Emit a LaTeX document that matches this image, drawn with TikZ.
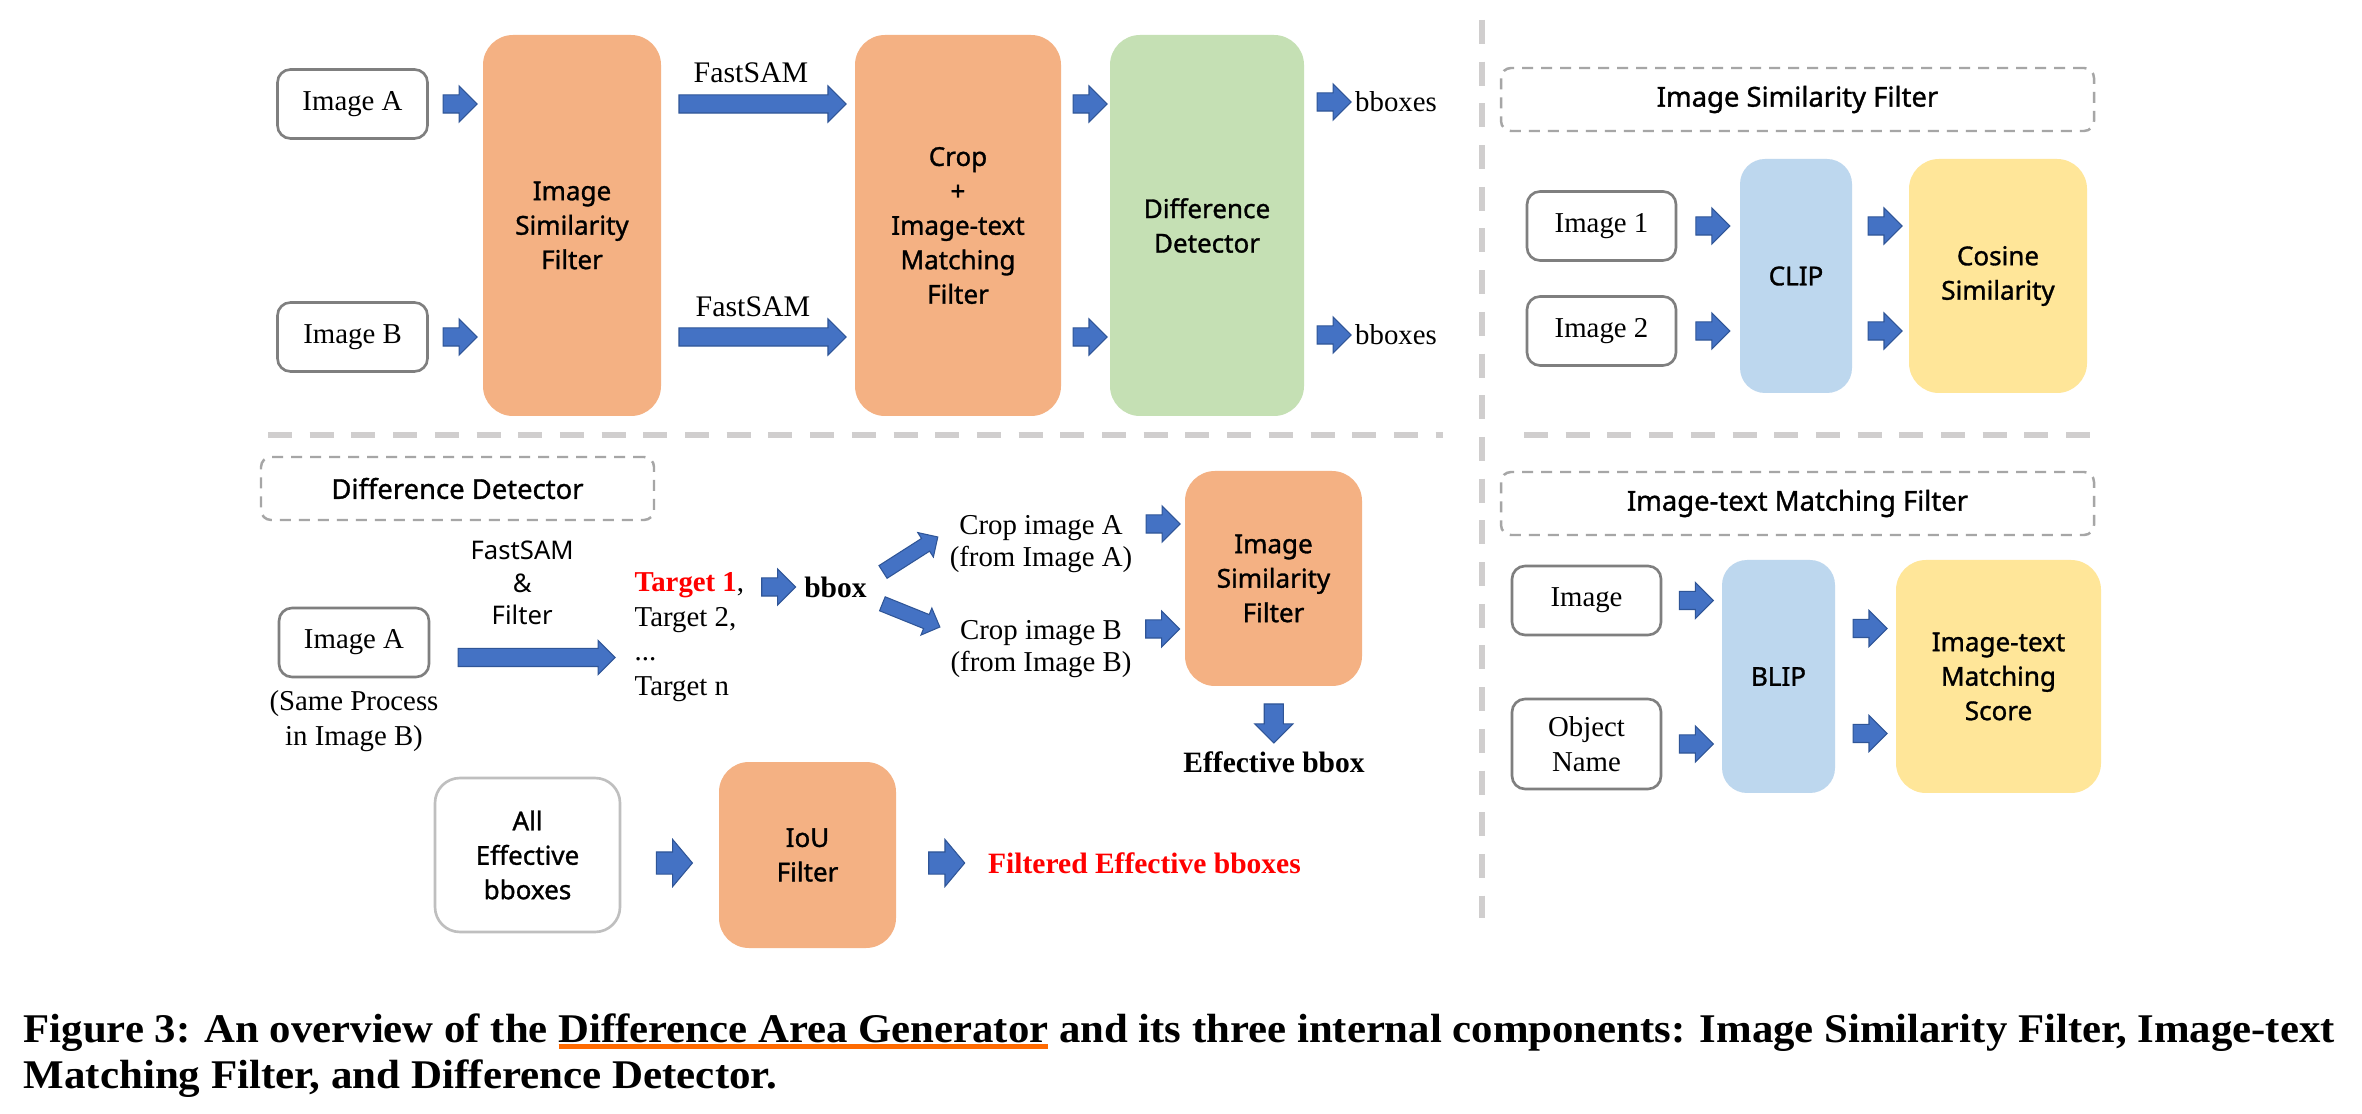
\documentclass[tikz,border=0pt]{standalone}
\usepackage{fontspec}
\usepackage{graphicx}
\setmainfont{Liberation Serif}
\newfontfamily\boxfont{Noto Sans}[FakeBold=1.2]
\newfontfamily\lightfont{Noto Sans}
\usetikzlibrary{shapes.arrows,calc,positioning}

\definecolor{orangefill}{HTML}{F4B183}
\definecolor{greenfill}{HTML}{C5E0B4}
\definecolor{bluefill}{HTML}{BDD7EE}
\definecolor{yellowfill}{HTML}{FFE699}
\definecolor{arrowfill}{HTML}{4472C4}
\definecolor{arrowedge}{HTML}{2F5597}
\definecolor{boxgrey}{HTML}{7F7F7F}
\definecolor{lightgrey}{HTML}{BFBFBF}
\definecolor{dashgrey}{HTML}{A6A6A6}
\definecolor{sepgrey}{HTML}{D0CECE}
\definecolor{capline}{HTML}{FF6A00}

\newsavebox\ulbox
\newcommand\orangeul[1]{\sbox\ulbox{#1}\rlap{\color{capline}\rule[-2pt]{\wd\ulbox}{1.5pt}}\usebox\ulbox}

\begin{document}
\begin{tikzpicture}[x=0.1mm, y=-0.1mm,
  lbl/.style={inner sep=0pt, font=\fontsize{8.2}{10}\selectfont},
  imgbox/.style={draw=boxgrey, line width=0.75pt, rounded corners=1.3mm, fill=white,
    minimum width=15mm, minimum height=6.9mm, inner sep=0pt, font=\fontsize{8.2}{10}\selectfont},
  module/.style={rounded corners=3mm, inner sep=0pt, align=center,
    font=\boxfont\fontsize{7.4}{9.8}\selectfont},
  titlebox/.style={draw=dashgrey, dash pattern=on 1.1mm off 0.8mm, line width=0.7pt,
    rounded corners=1mm, minimum width=59.3mm, minimum height=6.3mm,
    font=\boxfont\fontsize{7.8}{9.8}\selectfont},
  blkarrow/.style={single arrow, draw=arrowedge, fill=arrowfill, line width=0.3pt,
    inner sep=0.85mm, minimum height=3.4mm, minimum width=3.5mm, single arrow head extend=0.9mm},
  longarrow/.style={blkarrow, minimum height=16.7mm},
  diagarrow/.style={blkarrow, inner sep=0.7mm, minimum width=2.8mm, single arrow head extend=0.7mm},
  bigarrow/.style={blkarrow, inner sep=1.05mm, minimum height=3.6mm, minimum width=4.6mm,
    single arrow head extend=1.25mm, single arrow tip angle=100},
  sep/.style={draw=sepgrey, line width=0.67mm, dash pattern=on 2.4mm off 1.77mm}
]
\fill[white] (0,0) rectangle (2362,1114);
\useasboundingbox (0,0) rectangle (2362,1114);

% separators
\draw[sep] (268,435) -- (1443,435);
\draw[sep] (1524,435) -- (2090,435);
\draw[sep] (1482,20) -- (1482,918);

% overview pipeline
\node[imgbox] (imgA) at (352.5,104) {Image A};
\node[imgbox] (imgB) at (352.5,337) {Image B};
\node[module, fill=orangefill, minimum width=17.8mm, minimum height=38.1mm] (simf) at (572,225.5) {Image\\Similarity\\Filter};
\node[module, fill=orangefill, minimum width=20.6mm, minimum height=38.1mm] (cropf) at (958,225.5) {Crop\\+\\Image-text\\Matching\\Filter};
\node[module, fill=greenfill, minimum width=19.4mm, minimum height=38.1mm] (diffd) at (1207,225.5) {Difference\\Detector};
\node[lbl] (outA) at (1396,102) {bboxes};
\node[lbl] (outB) at (1396,335) {bboxes};

\path (imgA.east) -- (imgA.east -| simf.west) node[midway, blkarrow] {};
\path (imgB.east) -- (imgB.east -| simf.west) node[midway, blkarrow] {};
\path (imgA.east -| simf.east) -- (imgA.east -| cropf.west) node[midway, longarrow] {}
  node[midway, lbl, above=2mm, xshift=-0.7mm, font=\fontsize{8.5}{10}\selectfont] {FastSAM};
\path (imgB.east -| simf.east) -- (imgB.east -| cropf.west) node[midway, longarrow] {}
  node[midway, lbl, above=2mm, xshift=-0.5mm, font=\fontsize{8.5}{10}\selectfont] {FastSAM};
\path (imgA.east -| cropf.east) -- (imgA.east -| diffd.west) node[midway, blkarrow] {};
\path (imgB.east -| cropf.east) -- (imgB.east -| diffd.west) node[midway, blkarrow] {};
\path (outA.west -| diffd.east) -- (outA.west) node[midway, blkarrow] {};
\path (outB.west -| diffd.east) -- (outB.west) node[midway, blkarrow] {};

% image similarity filter
\node[titlebox] (isftitle) at (1797.5,99.5) {Image Similarity Filter};
\node[imgbox, minimum width=14.9mm] (img1) at (1601.5,226) {Image 1};
\node[imgbox, minimum width=14.9mm] (img2) at (1601.5,331) {Image 2};
\node[module, fill=bluefill, minimum width=11.2mm, minimum height=23.4mm, rounded corners=2.5mm] (clip) at (1796,276) {CLIP};
\node[module, fill=yellowfill, minimum width=17.8mm, minimum height=23.4mm] (cosine) at (1998,276) {Cosine\\Similarity};
\path (img1.east) -- (img1.east -| clip.west) node[midway, blkarrow] {};
\path (img2.east) -- (img2.east -| clip.west) node[midway, blkarrow] {};
\path (img1.east -| clip.east) -- (img1.east -| cosine.west) node[midway, blkarrow] {};
\path (img2.east -| clip.east) -- (img2.east -| cosine.west) node[midway, blkarrow] {};

% image-text matching filter
\node[titlebox] (itmtitle) at (1797.5,503.5) {Image-text Matching Filter};
\node[imgbox, minimum width=14.9mm] (imgC) at (1586.5,600.5) {Image};
\node[imgbox, minimum width=14.9mm, minimum height=9mm, align=center] (objn) at (1586.5,744) {Object\\Name};
\node[module, fill=bluefill, minimum width=11.3mm, minimum height=23.3mm, rounded corners=2.5mm] (blip) at (1778.5,676.5) {BLIP};
\node[module, fill=yellowfill, minimum width=20.5mm, minimum height=23.3mm] (score) at (1998.5,676.5) {Image-text\\Matching\\Score};
\path (imgC.east) -- (imgC.east -| blip.west) node[midway, blkarrow] {};
\path (objn.east) -- (objn.east -| blip.west) node[midway, blkarrow] {};
\path ($(blip.east)+(0,-48)$) -- ($(score.west)+(0,-48)$) node[midway, blkarrow] {};
\path ($(blip.east)+(0,57)$) -- ($(score.west)+(0,57)$) node[midway, blkarrow] {};

% difference detector
\node[titlebox, minimum width=39.3mm] (ddtitle) at (457.5,488.5) {Difference Detector};
\node[imgbox] (imgD) at (354,642.5) {Image A};
\node[lbl, align=center, below=1.1mm of imgD] (same) {(Same Process\\in Image B)};
\node[lbl, align=left, anchor=west, font=\fontsize{8.2}{9.8}\selectfont] (targets) at (634,637) {{\bfseries\color{red}Target 1},\\Target 2,\\...\\Target n};
\node[lbl, font=\fontsize{8.4}{10}\selectfont\bfseries] (bbx) at (835.5,587) {bbox};
\node[lbl, align=center, font=\fontsize{8.2}{9}\selectfont] (cropA) at (1041,544) {Crop image A\\(from Image A)};
\node[lbl, align=center, font=\fontsize{8.2}{9}\selectfont] (cropB) at (1041,649) {Crop image B\\(from Image B)};
\node[module, fill=orangefill, minimum width=17.7mm, minimum height=21.5mm] (isf2) at (1273.5,578.5) {Image\\Similarity\\Filter};
\node[lbl, font=\fontsize{8.4}{10}\selectfont\bfseries] (effb) at (1274,762) {Effective bbox};

\path ($(imgD.east)+(0,15)$) -- ($(imgD.east -| targets.west)+(0,15)$)
  node[midway, longarrow, minimum height=15.7mm, minimum width=3.3mm, single arrow head extend=0.8mm] {}
  node[midway, above=3.2mm, xshift=-1mm, inner sep=0pt, align=center, font=\lightfont\fontsize{7.3}{9.25}\selectfont] (fsf) {FastSAM\\\&\\Filter};
\path (bbx.west -| targets.east) -- (bbx.west) node[midway, blkarrow] {};
\path ($(bbx.east)+(14,-14)$) -- ($(cropA.west)+(-16,-4)$) node[midway, sloped, diagarrow, minimum height=6.5mm] {};
\path ($(bbx.east)+(13,16)$) -- ($(cropB.west)+(-15,-24)$) node[midway, sloped, diagarrow, minimum height=6.2mm] {};
\path ($(cropA.east)+(0,-20)$) -- ($(cropA.east -| isf2.west)+(0,-20)$) node[midway, blkarrow] {};
\path ($(cropB.east)+(0,-20)$) -- ($(cropB.east -| isf2.west)+(0,-20)$) node[midway, blkarrow] {};
\path (isf2.south) -- (effb.north) node[midway, blkarrow, rotate=-90, inner sep=0.9mm, minimum height=3.9mm, minimum width=3.7mm, single arrow head extend=0.95mm] {};

% IoU filtering
\node[module, draw=lightgrey, line width=0.75pt, fill=white, minimum width=18.5mm, minimum height=15.4mm, rounded corners=2.5mm] (alleff) at (527.5,855) {All\\Effective\\bboxes};
\node[module, fill=orangefill, minimum width=17.7mm, minimum height=18.6mm] (iou) at (807.5,855) {IoU\\Filter};
\node[lbl, font=\fontsize{8.4}{10}\selectfont\bfseries, text=red] (filtered) at (1144.5,863) {Filtered Effective bboxes};
\path ($(alleff.east)+(0,8)$) -- ($(iou.west)+(0,8)$) node[midway, bigarrow] {};
\path (filtered.west -| iou.east) -- (filtered.west) node[midway, bigarrow] {};

% caption
\node[inner sep=0pt, anchor=base west, font=\fontsize{11.6}{13}\selectfont\bfseries] (cap1) at (23,1042)
  {\resizebox{231.1mm}{\height}{Figure 3: An overview of the \orangeul{Difference Area Generator} and its three internal components: Image Similarity Filter, Image-text}};
\node[inner sep=0pt, anchor=base west, font=\fontsize{11.6}{13}\selectfont\bfseries] (cap2) at (23,1088)
  {\resizebox{75.3mm}{\height}{Matching Filter, and Difference Detector.}};
\end{tikzpicture}
\end{document}
